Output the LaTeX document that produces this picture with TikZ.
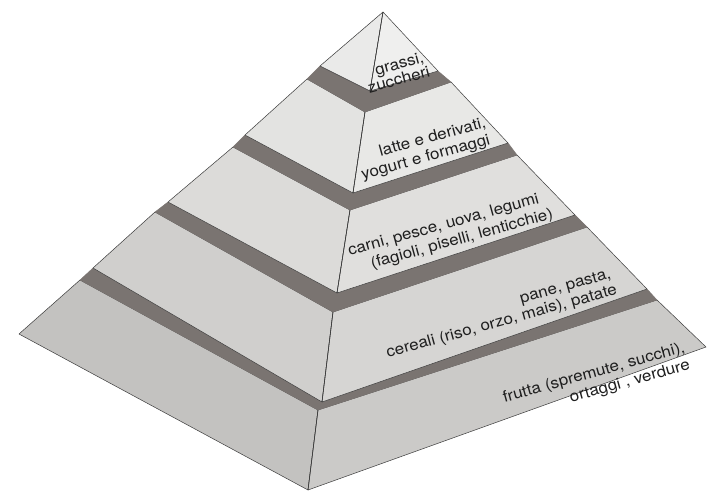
\documentclass[tikz,border=0pt]{standalone}
\usepackage{fontspec}
\setmainfont{TeX Gyre Heros}
\newfontfamily\lblfont[FakeStretch=1.1]{TeX Gyre Heros}
\definecolor{tonea}{HTML}{EFEFEE}
\definecolor{ttwo}{HTML}{E8E8E6}
\definecolor{tthree}{HTML}{E0DFDD}
\definecolor{tfour}{HTML}{D6D5D3}
\definecolor{tfive}{HTML}{CBCAC8}
\definecolor{bandc}{HTML}{7A7471}
\definecolor{edgec}{HTML}{3C3C3C}
\definecolor{textc}{HTML}{1E1E1E}
\begin{document}
\begin{tikzpicture}[x=1pt,y=-1pt,
  face/.style={draw=edgec, line width=0.5pt, line join=round},
  band/.style={fill=bandc, draw=bandc, line width=0.4pt, line join=round},
  frontedge/.style={draw=edgec, line width=0.6pt},
  lbl/.style={font=\lblfont\fontsize{15.5}{17}\selectfont, inner sep=0pt, text=textc, anchor=base east, rotate=15.5}]
\useasboundingbox (0,0) rectangle (707,492);
\fill[white] (0,0) rectangle (707,492);
% tier 1 (apex)
\coordinate (A)   at (383,12);
\coordinate (BL1) at (320,66);
\coordinate (BF1) at (370,91);
\coordinate (BR1) at (438,71);
% tier 2
\coordinate (TL2) at (307,79);
\coordinate (TF2) at (365,112);
\coordinate (TR2) at (451,82);
\coordinate (BL2) at (245,135);
\coordinate (BF2) at (353,193);
\coordinate (BR2) at (508,143);
% tier 3
\coordinate (TL3) at (233,147);
\coordinate (TF3) at (350,210);
\coordinate (TR3) at (517,155);
\coordinate (BL3) at (168,202);
\coordinate (BF3) at (337,293);
\coordinate (BR3) at (575,215);
% tier 4
\coordinate (TL4) at (155,212);
\coordinate (TF4) at (333,312);
\coordinate (TR4) at (587,227);
\coordinate (BL4) at (93,268);
\coordinate (BF4) at (322,402);
\coordinate (BR4) at (647,289);
% tier 5
\coordinate (TL5) at (80,280);
\coordinate (TF5) at (318,410);
\coordinate (TR5) at (657,300);
\coordinate (BL5) at (19,334);
\coordinate (BF5) at (308,490);
\coordinate (BR5) at (706,347);

% tier 5
\filldraw[face, fill=tfive!96!black] (TL5) -- (TF5) -- (BF5) -- (BL5) -- cycle;
\filldraw[face, fill=tfive] (TF5) -- (TR5) -- (BR5) -- (BF5) -- cycle;
\filldraw[band] (TL5) -- (TF5) -- (TR5) -- (BR4) -- (BF4) -- (BL4) -- cycle;
% tier 4
\filldraw[face, fill=tfour!97!black] (TL4) -- (TF4) -- (BF4) -- (BL4) -- cycle;
\filldraw[face, fill=tfour] (TF4) -- (TR4) -- (BR4) -- (BF4) -- cycle;
\filldraw[band] (TL4) -- (TF4) -- (TR4) -- (BR3) -- (BF3) -- (BL3) -- cycle;
% tier 3
\filldraw[face, fill=tthree!98!black] (TL3) -- (TF3) -- (BF3) -- (BL3) -- cycle;
\filldraw[face, fill=tthree] (TF3) -- (TR3) -- (BR3) -- (BF3) -- cycle;
\filldraw[band] (TL3) -- (TF3) -- (TR3) -- (BR2) -- (BF2) -- (BL2) -- cycle;
% tier 2
\filldraw[face, fill=ttwo!98!black] (TL2) -- (TF2) -- (BF2) -- (BL2) -- cycle;
\filldraw[face, fill=ttwo] (TF2) -- (TR2) -- (BR2) -- (BF2) -- cycle;
\filldraw[band] (TL2) -- (TF2) -- (TR2) -- (BR1) -- (BF1) -- (BL1) -- cycle;
% tier 1
\filldraw[face, fill=tonea!98!black] (A) -- (BL1) -- (BF1) -- cycle;
\filldraw[face, fill=tonea] (A) -- (BF1) -- (BR1) -- cycle;

% front edges
\draw[frontedge] (A) -- (BF1);
\draw[frontedge] (TF2) -- (BF2);
\draw[frontedge] (TF3) -- (BF3);
\draw[frontedge] (TF4) -- (BF4);
\draw[frontedge] (TF5) -- (BF5);

% labels
\node[lbl] (l1a) at (425,62) {grassi,};
\node[lbl] (l1b) at (431,76) {zuccheri};
\node[lbl] (l2a) at (487,127) {latte e derivati,};
\node[lbl] (l2b) at (491,144) {yogurt e formaggi};
\node[lbl] (l3a) at (540,203) {carni, pesce, uova, legumi};
\node[lbl] (l3b) at (554,218) {(fagioli, piselli, lenticchie)};
\node[lbl] (l4a) at (612,278) {pane, pasta,};
\node[lbl] (l4b) at (618,294) {cereali (riso, orzo, mais), patate};
\node[lbl] (l5a) at (686,352) {frutta (spremute, succhi),};
\node[lbl] (l5b) at (691,369) {ortaggi , verdure};
\end{tikzpicture}
\end{document}
